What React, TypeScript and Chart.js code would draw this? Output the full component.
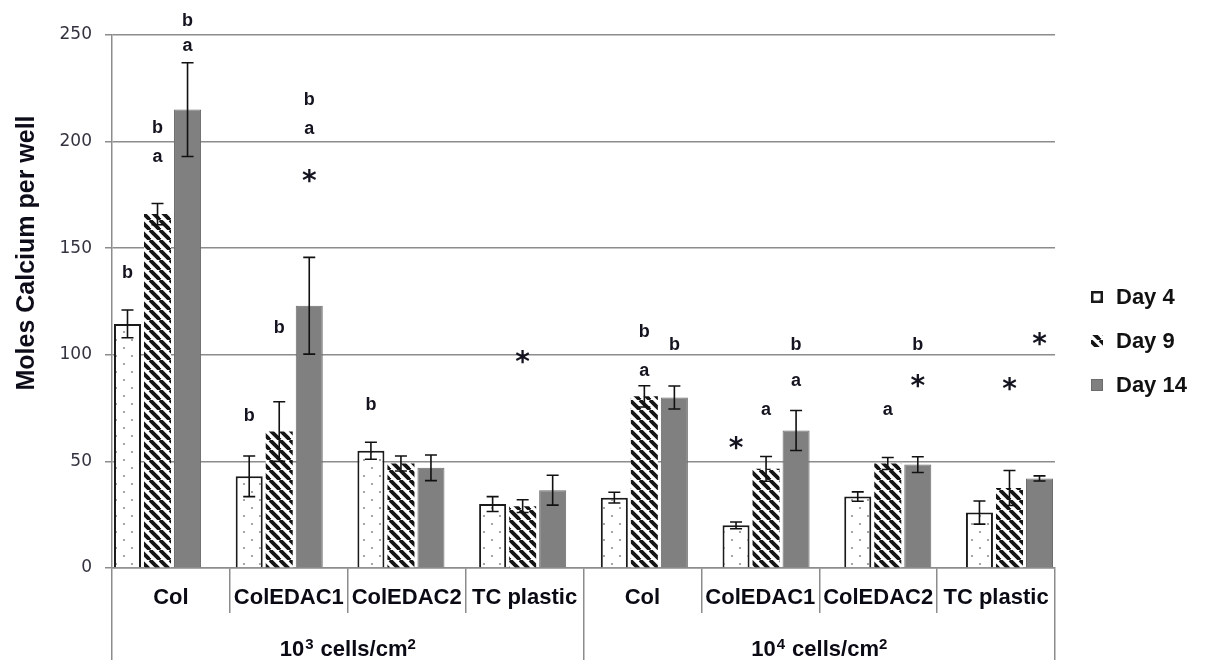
import React, { useEffect, useRef } from 'react';
import { Chart, registerables } from 'chart.js';

Chart.register(...registerables);

// ---------- data ----------
const categories = ['Col', 'ColEDAC1', 'ColEDAC2', 'TC plastic', 'Col', 'ColEDAC1', 'ColEDAC2', 'TC plastic'];
const groupBases = ['10', '10'];
const groupExponents = ['3', '4'];
const groupUnit = ' cells/cm';
const groupUnitExp = '2';
const groupLabels = ['10\u00B3 cells/cm\u00B2', '10\u2074 cells/cm\u00B2'];
const seriesNames = ['Day 4', 'Day 9', 'Day 14'];

const day4 = [114.5, 43, 55, 30, 33, 20, 33.5, 26];
const day9 = [166, 64, 49, 29, 80.5, 46.5, 49, 37.5];
const day14 = [215, 123, 47, 36.5, 80, 64.5, 48.5, 42];

const day4Err = [6.5, 9.5, 4, 3.5, 2.5, 1.6, 2.2, 5.4];
const day9Err = [5, 14, 3.5, 3, 5, 5.8, 2.8, 8.2];
const day14Err = [22, 22.7, 6, 7, 5.4, 9.4, 3.7, 1.2];

const yTicks = [0, 50, 100, 150, 200, 250];

// significance marks: category index, series index, text, value level
const markCats = [0, 0, 0, 0, 0, 1, 1, 1, 1, 1, 2, 3, 4, 4, 4, 5, 5, 5, 5, 6, 6, 6, 7, 7];
const markSeries = [0, 1, 1, 2, 2, 0, 1, 2, 2, 2, 0, 1, 1, 1, 2, 0, 1, 2, 2, 1, 2, 2, 1, 2];
const markTexts = ['b', 'b', 'a', 'b', 'a', 'b', 'b', 'b', 'a', '*', 'b', '*', 'b', 'a', 'b', '*', 'a', 'b', 'a', 'a', 'b', '*', '*', '*'];
const markValues = [139, 207, 193, 257.5, 245, 72, 113.5, 220, 206, 184, 77, 99, 111.6, 92.4, 105.5, 58.6, 74, 105.5, 87.7, 74, 105.5, 87.7, 86.3, 107.4];

const seriesValues = [day4, day9, day14];
const seriesErrors = [day4Err, day9Err, day14Err];

const ARIAL = '"Liberation Sans", Arial, sans-serif';

function makeDots(): CanvasPattern | string {
  const c = document.createElement('canvas');
  c.width = 16; c.height = 16;
  const g = c.getContext('2d');
  if (!g) return '#fff';
  g.fillStyle = '#ffffff';
  g.fillRect(0, 0, 16, 16);
  g.fillStyle = '#8f8f8f';
  [[4, 4], [12, 12]].forEach(([x, y]) => {
    g.beginPath(); g.arc(x, y, 1.1, 0, Math.PI * 2); g.fill();
  });
  return g.createPattern(c, 'repeat') || '#fff';
}

function makeStripes(): CanvasPattern | string {
  const c = document.createElement('canvas');
  c.width = 10; c.height = 10;
  const g = c.getContext('2d');
  if (!g) return '#333';
  g.fillStyle = '#ffffff';
  g.fillRect(0, 0, 10, 10);
  g.strokeStyle = '#151515';
  g.lineWidth = 3.8;
  [-10, 0, 10].forEach((o) => {
    g.beginPath(); g.moveTo(o, 0); g.lineTo(o + 10, 10); g.stroke();
  });
  return g.createPattern(c, 'repeat') || '#333';
}

export default function App() {
  const ref = useRef<HTMLCanvasElement | null>(null);

  useEffect(() => {
    document.body.style.margin = '0';
    const canvas = ref.current;
    if (!canvas) return;
    const dots = makeDots();
    const stripes = makeStripes();
    const fills = [dots, stripes, '#808080'];
    const borders = ['#1a1a1a', 'rgba(0,0,0,0)', '#6c6c6c'];
    const borderWidths = [2, 0, 1];

    const overlay = {
      id: 'overlay',
      afterDatasetsDraw(chart: any) {
        const ctx = chart.ctx as CanvasRenderingContext2D;
        const ys = chart.scales.y;
        ctx.save();
        ctx.strokeStyle = '#111';
        ctx.lineWidth = 1.6;
        seriesErrors.forEach((errs, di) => {
          const meta = chart.getDatasetMeta(di);
          meta.data.forEach((bar: any, j: number) => {
            const v = seriesValues[di][j];
            const e = errs[j];
            const x = bar.x;
            const y1 = ys.getPixelForValue(v + e);
            const y2 = ys.getPixelForValue(v - e);
            ctx.beginPath();
            ctx.moveTo(x, y1); ctx.lineTo(x, y2);
            ctx.moveTo(x - 6, y1); ctx.lineTo(x + 6, y1);
            ctx.moveTo(x - 6, y2); ctx.lineTo(x + 6, y2);
            ctx.stroke();
          });
        });
        // significance marks
        ctx.fillStyle = '#141420';
        ctx.textAlign = 'center';
        ctx.textBaseline = 'alphabetic';
        markTexts.forEach((t, k) => {
          const bar = chart.getDatasetMeta(markSeries[k]).data[markCats[k]];
          const x = bar.x;
          const y = ys.getPixelForValue(markValues[k]);
          ctx.font = t === '*' ? 'bold 28px "DejaVu Sans", sans-serif' : `bold 18px ${ARIAL}`;
          const m = ctx.measureText(t);
          const off = (m.actualBoundingBoxAscent - m.actualBoundingBoxDescent) / 2;
          ctx.fillText(t, x, y + off);
        });
        ctx.restore();
      },
      afterDraw(chart: any) {
        const ctx = chart.ctx as CanvasRenderingContext2D;
        ctx.save();
        // y axis title
        ctx.translate(27, 253);
        ctx.rotate(-Math.PI / 2);
        ctx.fillStyle = '#0d0d1a';
        ctx.font = `bold 25px ${ARIAL}`;
        ctx.textAlign = 'center';
        ctx.textBaseline = 'middle';
        ctx.fillText('Moles Calcium per well', 0, 0);
        ctx.restore();

        // group labels with real superscripts, centred on the group scale
        const gs = chart.scales.xGroup;
        ctx.save();
        ctx.fillStyle = '#0a0a14';
        ctx.textBaseline = 'alphabetic';
        ctx.textAlign = 'left';
        const big = `bold 22px ${ARIAL}`;
        const small = `bold 15px ${ARIAL}`;
        groupBases.forEach((base, i) => {
          const cx = gs.getPixelForValue(i);
          const baseY = 656;
          ctx.font = big;
          const w1 = ctx.measureText(base).width;
          const w3 = ctx.measureText(groupUnit).width;
          ctx.font = small;
          const w2 = ctx.measureText(groupExponents[i]).width + 2;
          const w4 = ctx.measureText(groupUnitExp).width;
          let x = cx - (w1 + w2 + w3 + w4) / 2;
          ctx.font = big; ctx.fillText(base, x, baseY); x += w1 + 1;
          ctx.font = small; ctx.fillText(groupExponents[i], x, baseY - 7); x += w2 - 1;
          ctx.font = big; ctx.fillText(groupUnit, x, baseY); x += w3;
          ctx.font = small; ctx.fillText(groupUnitExp, x, baseY - 7);
        });
        ctx.restore();

        // legend
        ctx.save();
        const ly = [297, 341, 385];
        seriesNames.forEach((name, i) => {
          const cy = ly[i];
          const bx = 1091, by = cy - 6, s = 12;
          ctx.fillStyle = fills[i] as any;
          ctx.fillRect(bx, by, s, s);
          if (i === 0) {
            ctx.strokeStyle = '#1a1a1a'; ctx.lineWidth = 2.5;
            ctx.strokeRect(bx + 1.25, by + 1.25, s - 2.5, s - 2.5);
          } else if (i === 2) {
            ctx.strokeStyle = '#6c6c6c'; ctx.lineWidth = 1;
            ctx.strokeRect(bx + 0.5, by + 0.5, s - 1, s - 1);
          }
          ctx.fillStyle = '#111';
          ctx.font = `bold 22px ${ARIAL}`;
          ctx.textAlign = 'left';
          ctx.textBaseline = 'middle';
          ctx.fillText(name, 1116, cy + 1);
        });
        ctx.restore();
      },
    };

    const chart = new Chart(canvas, {
      type: 'bar',
      data: {
        datasets: seriesNames.map((name, i) => ({
          label: name,
          data: seriesValues[i].map((v, j) => ({ x: j, y: v })),
          backgroundColor: fills[i] as any,
          borderColor: borders[i],
          borderWidth: borderWidths[i],
          xAxisID: 'x',
          yAxisID: 'y',
          categoryPercentage: 0.74,
          barPercentage: 0.9,
        })),
      },
      options: {
        animation: false,
        responsive: false,
        devicePixelRatio: 1,
        layout: { padding: { top: 35, right: 151, left: 0, bottom: 0 } },
        plugins: { legend: { display: false }, tooltip: { enabled: false } },
        scales: {
          x: {
            type: 'linear',
            display: false,
            offset: false,
            grid: { offset: false },
            position: 'bottom',
            weight: -1,
            min: -0.374,
            max: 7.374,
            afterBuildTicks: (s: any) => {
              s.ticks = categories.map((_, i) => ({ value: i }));
            },
          },
          xCat: {
            type: 'category',
            position: 'bottom',
            weight: 0,
            labels: categories,
            offset: true,
            grid: { offset: true, drawOnChartArea: false, tickLength: 45, color: '#8c8c8c', lineWidth: 1.5 },
            border: { display: true, color: '#8c8c8c', width: 1.5 },
            ticks: {
              autoSkip: false,
              maxRotation: 0,
              minRotation: 0,
              padding: -28,
              color: '#0a0a14',
              font: { family: ARIAL, size: 22, weight: 'bold' },
            },
            afterFit: (s: any) => { s.height = 45; },
          },
          xGroup: {
            type: 'category',
            position: 'bottom',
            weight: 1,
            labels: groupLabels,
            offset: true,
            grid: { offset: true, drawOnChartArea: false, tickLength: 47, color: '#8c8c8c', lineWidth: 1.5 },
            border: { display: false },
            ticks: { display: false },
            afterFit: (s: any) => { s.height = 55; },
          },
          y: {
            type: 'linear',
            min: 0,
            max: 250,
            afterBuildTicks: (s: any) => {
              s.ticks = yTicks.map((v) => ({ value: v }));
            },
            grid: { color: '#8c8c8c', lineWidth: 1.5, tickLength: 7 },
            border: { display: true, color: '#8c8c8c', width: 1.5 },
            ticks: {
              padding: 13,
              color: '#333340',
              font: { family: '"DejaVu Sans", Verdana, sans-serif', size: 17 },
            },
            afterFit: (s: any) => { s.width = 112; },
          },
        },
      },
      plugins: [overlay],
    } as any);

    return () => chart.destroy();
  }, []);

  return (
    <div style={{ position: 'absolute', left: 0, top: 0, width: 1206, height: 668, background: '#fff' }}>
      <canvas ref={ref} width={1206} height={668} style={{ display: 'block' }} />
    </div>
  );
}
